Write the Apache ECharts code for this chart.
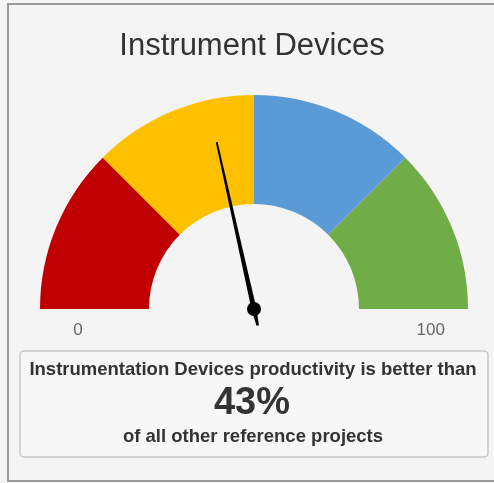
<!DOCTYPE html>
<html>
<head>
<meta charset="utf-8">
<title>Instrument Devices</title>
<script src="https://cdn.jsdelivr.net/npm/echarts@6/dist/echarts.min.js"></script>
<style>
    html, body { margin: 0; padding: 0; background: #f4f4f4; }
    #gauge { width: 494px; height: 483px; }
</style>
</head>
<body>
<div id="gauge"></div>
<script>
    // data
    var chartTitle = 'Instrument Devices';
    var axisRange = [0, 100];
    var bandEnds = [25, 50, 75, 100];
    var bandColors = ['#c00000', '#ffc000', '#5b9bd5', '#70ad47'];
    var score = [43];
    var boxLines = ['Instrumentation Devices productivity is better than', 'of all other reference projects'];

    var font = 'Liberation Sans, Arial, Helvetica, sans-serif';
    var cx = 254, cy = 309;

    var bands = [];
    for (var i = 0; i < bandEnds.length; i++) {
        bands.push([(bandEnds[i] - axisRange[0]) / (axisRange[1] - axisRange[0]), bandColors[i]]);
    }

    var chart = echarts.init(document.getElementById('gauge'));

    var option = {
        backgroundColor: '#f4f4f4',
        animation: false,
        graphic: [
            // outer frame (left, top, bottom)
            {
                type: 'polyline',
                shape: { points: [[494, 4], [8, 4], [8, 481], [494, 481]] },
                style: { stroke: '#9a9a9a', lineWidth: 2, fill: null }
            },
            {
                type: 'text',
                style: {
                    text: chartTitle, x: 252, y: 46,
                    textAlign: 'center', textVerticalAlign: 'middle',
                    font: '31px ' + font, fill: '#333'
                }
            },
            {
                type: 'rect',
                shape: { x: 20, y: 351, width: 468, height: 106, r: 4 },
                style: { fill: '#f7f7f7', stroke: '#c8c8c8', lineWidth: 1.5 }
            },
            {
                type: 'text',
                style: {
                    text: boxLines[0], x: 253, y: 370,
                    textAlign: 'center', textVerticalAlign: 'middle',
                    font: 'bold 18.5px ' + font, fill: '#333'
                }
            },
            {
                type: 'text',
                style: {
                    text: score[0] + '%', x: 252, y: 404,
                    textAlign: 'center', textVerticalAlign: 'middle',
                    font: 'bold 38px ' + font, fill: '#333'
                }
            },
            {
                type: 'text',
                style: {
                    text: boxLines[1], x: 253, y: 437,
                    textAlign: 'center', textVerticalAlign: 'middle',
                    font: 'bold 18.5px ' + font, fill: '#333'
                }
            }
        ],
        series: [
            {
                type: 'gauge',
                center: [cx, cy],
                radius: 214,
                startAngle: 180,
                endAngle: 0,
                min: axisRange[0],
                max: axisRange[1],
                axisLine: { lineStyle: { width: 109, color: bands } },
                splitLine: { show: false },
                axisTick: { show: false },
                axisLabel: { show: false },
                pointer: {
                    icon: 'path://M2.5,0 L5.5,0 L8,171 L6,188 L2,188 L0,171 Z',
                    length: 188,
                    width: 5,
                    offsetCenter: [0, 17],
                    itemStyle: { color: '#000' }
                },
                anchor: { show: true, size: 14, showAbove: true, itemStyle: { color: '#000' } },
                title: { show: false },
                detail: { show: false },
                data: [{ value: score[0] }]
            },
            // min / max labels under the arc (gauge aligns them left / right itself)
            {
                type: 'gauge',
                center: [259, cy],
                radius: 187,
                startAngle: 186.4,
                endAngle: -6.4,
                min: axisRange[0],
                max: axisRange[1],
                splitNumber: 1,
                axisLine: { show: false },
                splitLine: { show: false, length: 0, distance: 0 },
                axisTick: { show: false },
                axisLabel: { distance: 0, color: '#666', fontSize: 17, fontFamily: font },
                pointer: { show: false },
                anchor: { show: false },
                title: { show: false },
                detail: { show: false },
                data: [{ value: axisRange[0] }]
            }
        ]
    };

    chart.setOption(option);
</script>
</body>
</html>
